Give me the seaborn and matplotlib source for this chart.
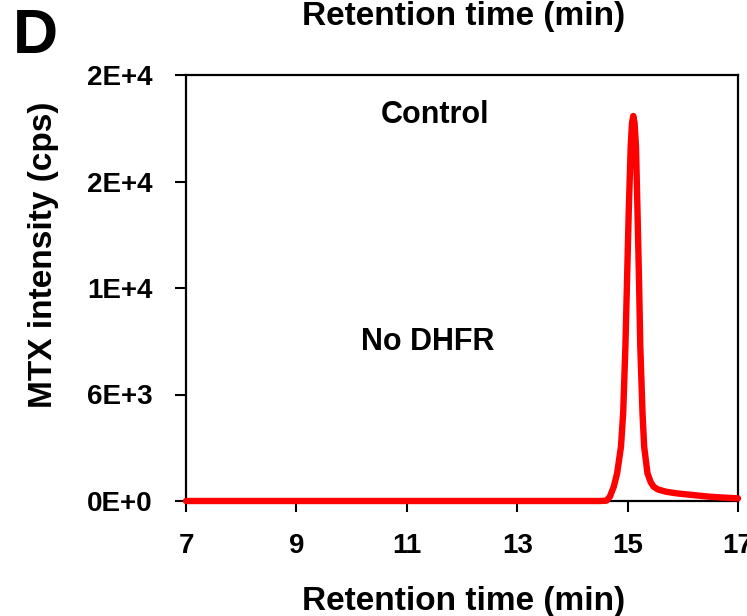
import matplotlib
matplotlib.use("Agg")
import matplotlib.pyplot as plt
import seaborn as sns
import pandas as pd

# MTX extracted-ion chromatogram, control sample (no DHFR)
retention_time = [7.0, 8.0, 9.0, 10.0, 11.0, 12.0, 13.0, 14.0, 14.5, 14.62,
                  14.68, 14.75, 14.81, 14.88, 14.92, 14.96, 14.99, 15.02, 15.056,
                  15.08, 15.103, 15.126, 15.152, 15.18, 15.207, 15.23, 15.27,
                  15.30, 15.36, 15.42, 15.47, 15.55, 15.7, 15.89, 16.2, 16.49,
                  16.75, 17.0]
intensity = [0, 0, 0, 0, 0, 0, 0, 0, 0, 20,
             250, 810, 1560, 3060, 4960, 8690, 12450, 16225, 19960,
             21300, 21690, 21300, 19960, 16225, 12450, 8690, 4960,
             3060, 1560, 1050, 810, 650, 520, 430, 330, 240,
             190, 150]

x_ticks = [7, 9, 11, 13, 15, 17]
y_ticks = [0, 6000, 12000, 18000, 24000]
y_tick_labels = ["0E+0", "6E+3", "1E+4", "2E+4", "2E+4"]

x_title = "Retention time (min)"
y_title = "MTX intensity (cps)"
panel_letter = "D"
annotations = ["Control", "No DHFR"]

sns.set_theme(style="ticks")
plt.rcParams["font.family"] = ["Liberation Sans", "DejaVu Sans"]
plt.rcParams["font.weight"] = "bold"

W, H = 747, 616
fig = plt.figure(figsize=(W / 100, H / 100), dpi=100)
ax_l, ax_r, ax_t, ax_b = 186, 738, 75, 501
ax = fig.add_axes([ax_l / W, 1 - ax_b / H, (ax_r - ax_l) / W, (ax_b - ax_t) / H])

df = pd.DataFrame({"time": retention_time, "intensity": intensity})
sns.lineplot(data=df, x="time", y="intensity", color="#ff0000", linewidth=4.6,
             ax=ax, sort=True, estimator=None)
for ln in ax.lines:
    ln.set_clip_on(False)
    ln.set_solid_capstyle("round")
    ln.set_solid_joinstyle("round")
    ln.set_zorder(5)

ax.set_xlim(7, 17)
ax.set_ylim(0, 24000)
ax.set_xticks(x_ticks)
ax.set_xticklabels([str(t) for t in x_ticks])
ax.set_yticks(y_ticks)
ax.set_yticklabels(y_tick_labels)

for side in ["left", "right", "top", "bottom"]:
    ax.spines[side].set_visible(True)
    ax.spines[side].set_linewidth(1.6)
    ax.spines[side].set_color("black")

ax.tick_params(axis="both", direction="out", length=8, width=1.5, color="black",
               labelsize=20, labelcolor="black")
ax.tick_params(axis="y", pad=16)
ax.tick_params(axis="x", pad=15)
for lbl in ax.get_xticklabels() + ax.get_yticklabels():
    lbl.set_fontweight("bold")

pw = ax_r - ax_l
ph = ax_b - ax_t

ax.set_xlabel(x_title, fontsize=24, fontweight="bold", color="black")
ax.xaxis.label.set_va("baseline")
ax.xaxis.set_label_coords((464 - ax_l) / pw, (ax_b - 610) / ph)

ax.set_ylabel(y_title, fontsize=24, fontweight="bold", color="black")
ax.yaxis.label.set_va("baseline")
ax.yaxis.set_label_coords((52 - ax_l) / pw, (ax_b - 255) / ph)

# repeated axis title from the panel above, cropped at the top edge
fig.text(464 / W, 1 - 25 / H, x_title, fontsize=24, fontweight="bold",
         ha="center", va="baseline", color="black")
fig.text(13 / W, 1 - 53 / H, panel_letter, fontsize=45, fontweight="bold",
         ha="left", va="baseline", color="black")

ax.text((435 - ax_l) / pw, (ax_b - 123) / ph, annotations[0], transform=ax.transAxes,
        fontsize=22, fontweight="bold", ha="center", va="baseline", color="black")
ax.text((427.5 - ax_l) / pw, (ax_b - 350) / ph, annotations[1], transform=ax.transAxes,
        fontsize=22, fontweight="bold", ha="center", va="baseline", color="black")

fig.savefig("out.png", dpi=100, facecolor="white")
